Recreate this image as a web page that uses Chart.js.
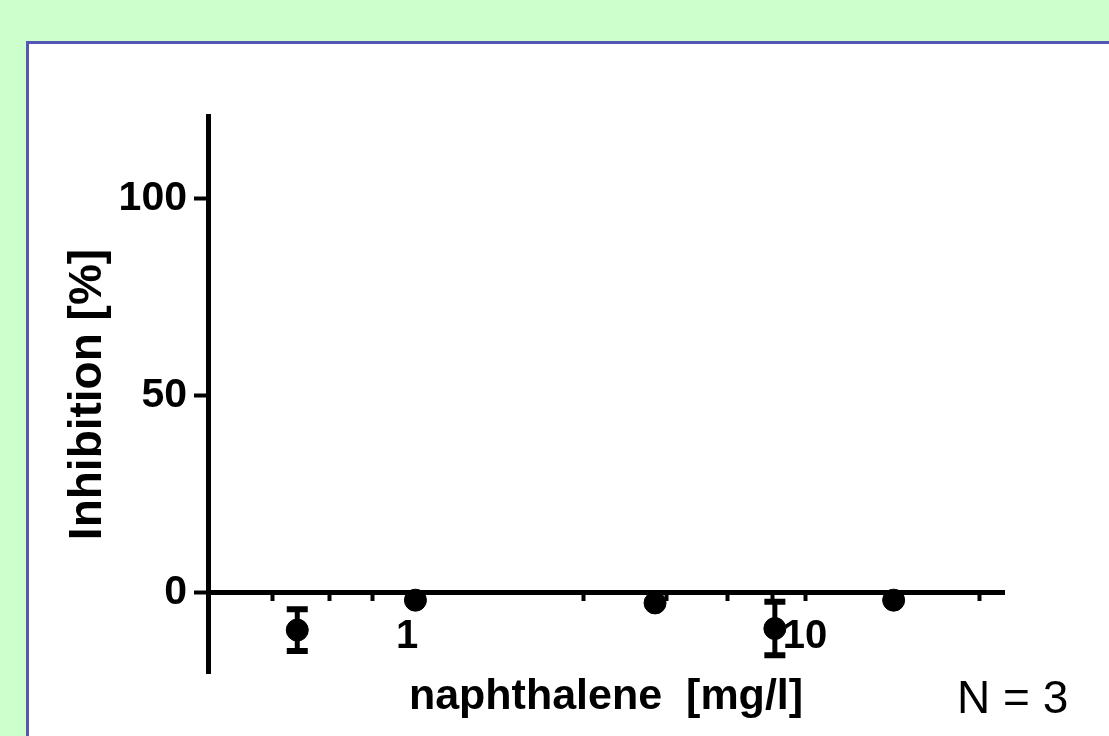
<!DOCTYPE html>
<html>
<head>
<meta charset="utf-8">
<title>naphthalene inhibition</title>
<script src="https://cdn.jsdelivr.net/npm/chart.js@4.4.1/dist/chart.umd.min.js"></script>
<style>
  html, body {
    margin: 0;
    padding: 0;
    width: 1109px;
    height: 736px;
    overflow: hidden;
    background: #ccffcc;
    font-family: "Liberation Sans", Arial, sans-serif;
  }
  .panel {
    position: absolute;
    left: 26px;
    top: 41px;
    width: 1200px;
    height: 800px;
    background: #ffffff;
    border-top: 3px solid #5656b4;
    border-left: 3px solid #5656b4;
    box-sizing: border-box;
  }
  #chart-1 {
    position: absolute;
    left: 0;
    top: 0;
  }
  .n-label {
    position: absolute;
    left: 957px;
    top: 674px;
    font-size: 46px;
    line-height: 46px;
    color: #000;
  }
</style>
</head>
<body>
<div class="panel"></div>
<canvas id="chart-1" width="1109" height="736"></canvas>
<div class="n-label">N = 3</div>
<script>
// concentrations [mg/l] and inhibition [%]
const concentrations = [0.53, 1.05, 4.2, 8.4, 16.7];
const inhibition = [-9.6, -2.0, -2.7, -9.2, -2.0];
const errors = [5.3, 0, 0, 6.8, 0];
const xTickValues = [0.46, 0.64, 0.82, 1, 2.77, 4.5, 6.4, 8.3, 10, 27.5];
const xTickLabels = ["1", "10"];
const yTickValues = [0, 50, 100];

const ctx_1 = document.getElementById("chart-1");

const data_1 = {
  datasets: [
    {
      label: "naphthalene",
      data: concentrations.map((c, i) => ({ x: c, y: inhibition[i] })),
      backgroundColor: "#000000",
      borderColor: "#000000",
      pointRadius: 11,
      pointHoverRadius: 11,
      showLine: false,
    },
  ],
};

const errorBars = {
  id: "errorBars",
  beforeDatasetsDraw(chart) {
    const c = chart.ctx;
    const xs = chart.scales.x;
    const ys = chart.scales.y;
    c.save();
    c.strokeStyle = "#000000";
    concentrations.forEach((conc, i) => {
      if (!errors[i]) return;
      const px = xs.getPixelForValue(conc);
      const top = ys.getPixelForValue(inhibition[i] + errors[i]);
      const bottom = ys.getPixelForValue(inhibition[i] - errors[i]);
      c.lineWidth = 5;
      c.beginPath();
      c.moveTo(px, top);
      c.lineTo(px, bottom);
      c.stroke();
      c.lineWidth = 6;
      c.beginPath();
      c.moveTo(px - 10.5, top);
      c.lineTo(px + 10.5, top);
      c.moveTo(px - 10.5, bottom);
      c.lineTo(px + 10.5, bottom);
      c.stroke();
    });
    c.restore();
  },
};

new Chart(ctx_1, {
  type: "scatter",
  data: data_1,
  plugins: [errorBars],
  options: {
    responsive: false,
    animation: false,
    devicePixelRatio: 1,
    layout: {
      padding: { left: 0, top: 116, right: 105, bottom: 63 },
    },
    plugins: {
      legend: { display: false },
      tooltip: { enabled: false },
    },
    scales: {
      x: {
        type: "logarithmic",
        position: { y: 0 },
        bounds: "data",
        min: Math.pow(10, -0.5),
        max: Math.pow(10, 1.5),
        afterBuildTicks: (scale) => {
          scale.ticks = xTickValues.map((v) => ({ value: v }));
        },
        ticks: {
          autoSkip: false,
          maxRotation: 0,
          padding: 15,
          color: "#000000",
          font: { family: "'Liberation Sans', Arial", size: 40, weight: "bold" },
          callback: (value) => {
            const s = String(value);
            return xTickLabels.includes(s) ? s : "";
          },
        },
        grid: {
          drawOnChartArea: false,
          drawTicks: true,
          tickLength: 6,
          tickWidth: 4,
          tickColor: "#000000",
        },
        border: { display: true, color: "#000000", width: 5 },
        title: {
          display: true,
          text: "naphthalene  [mg/l]",
          color: "#000000",
          font: { family: "'Liberation Sans', Arial", size: 43, weight: "bold" },
          padding: { top: -5, bottom: 0 },
        },
      },
      y: {
        type: "linear",
        position: "left",
        min: -20.5,
        max: 121,
        afterBuildTicks: (scale) => {
          scale.ticks = yTickValues.map((v) => ({ value: v }));
        },
        afterFit: (scale) => {
          scale.width = 208;
        },
        ticks: {
          padding: 7,
          color: "#000000",
          font: { family: "'Liberation Sans', Arial", size: 41, weight: "bold" },
        },
        grid: {
          drawOnChartArea: false,
          drawTicks: true,
          tickLength: 14,
          tickWidth: 4,
          tickColor: "#000000",
        },
        border: { display: true, color: "#000000", width: 5 },
        title: {
          display: true,
          text: "Inhibition [%]",
          color: "#000000",
          font: { family: "'Liberation Sans', Arial", size: 46, weight: "bold" },
          padding: { top: 61, bottom: 0 },
        },
      },
    },
  },
});
</script>
</body>
</html>
